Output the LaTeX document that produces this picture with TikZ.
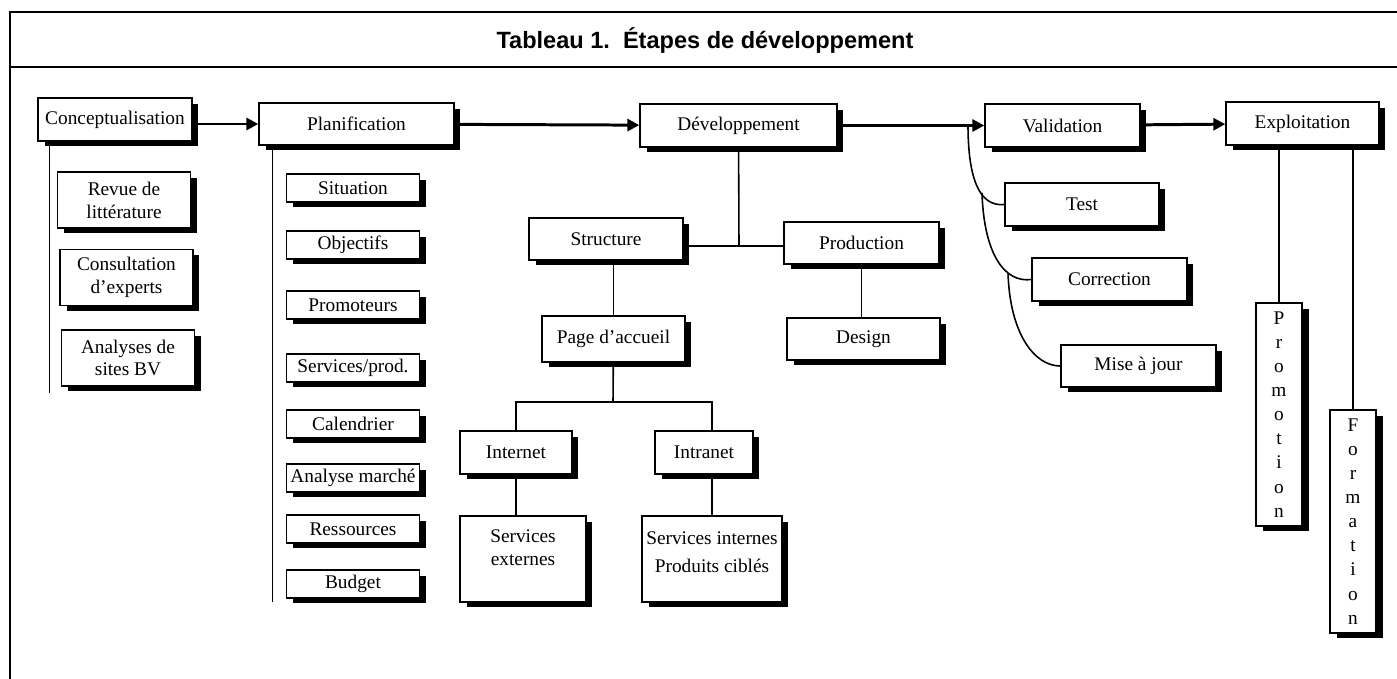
\documentclass[tikz,border=0pt]{standalone}
\usepackage{fontspec}
\setmainfont{Liberation Serif}
\setsansfont{Liberation Sans}
\usetikzlibrary{arrows.meta,shadows}

\begin{document}
\begin{tikzpicture}[x=0.02cm, y=0.02cm,
    box/.style={draw, fill=white, line width=0.8pt, inner sep=1pt, align=center,
      font=\fontsize{11}{13}\selectfont,
      drop shadow={shadow xshift=0.13cm, shadow yshift=-0.11cm, fill=black, opacity=1}},
    stagebox/.style={box, minimum width=3.08cm, minimum height=0.86cm},
    sidebox/.style={box, minimum width=2.66cm, minimum height=1.12cm},
    planbox/.style={box, minimum width=2.66cm, minimum height=0.56cm},
    webbox/.style={box, minimum height=0.86cm},
    contentbox/.style={box, minimum height=1.72cm},
    tallbox/.style={box, minimum width=0.92cm, minimum height=4.46cm,
      font=\fontsize{11}{13.7}\selectfont},
    flow/.style={line width=1.7pt, -{Triangle[length=0.24cm, width=0.24cm]}},
    tree/.style={line width=0.9pt},
    frame/.style={line width=1.5pt}]
  \useasboundingbox (0,0) rectangle (1397,-679);
  \fill[white] (0,0) rectangle (1397,-679);

  \draw[frame] (1397,-12) -- (10,-12) -- (10,-679);
  \draw[frame] (10,-67) -- (1397,-67);
  \node (title) at (705,-40.5)
    {\fontsize{13.4}{16}\sffamily\bfseries Tableau 1.\ \ Étapes de développement};

  \node[stagebox] (concept) at (115,-119.5) {Conceptualisation};
  \node[stagebox, minimum width=3.9cm, minimum height=0.84cm] (plan) at (356.5,-124) {Planification};
  \node[stagebox, minimum width=3.94cm] (dev) at (738.5,-125.5) {Développement};
  \node[stagebox, minimum width=3.1cm] (valid) at (1062.5,-125.5) {Validation};
  \node[stagebox, minimum width=3.06cm] (exploit) at (1302.5,-123.5) {Exploitation};

  \node[sidebox] (revue) at (124,-200) {Revue de\\littérature};
  \node[sidebox] (consult) at (126.5,-277.5) {Consultation\\d’experts};
  \node[sidebox] (analyses) at (128,-358) {Analyses de\\sites BV};

  \node[planbox] (situation) at (353,-188) {Situation};
  \node[planbox] (objectifs) at (353,-245) {Objectifs};
  \node[planbox] (promoteurs) at (353,-305) {Promoteurs};
  \node[planbox] (services) at (353,-368) {Services/prod.};
  \node[planbox] (calendrier) at (353,-424) {Calendrier};
  \node[planbox] (marche) at (353,-478) {Analyse marché};
  \node[planbox] (ressources) at (353,-529) {Ressources};
  \node[planbox] (budget) at (353,-584) {Budget};

  \node[stagebox, minimum height=0.84cm] (structure) at (606,-239) {Structure};
  \node[stagebox, minimum width=3.1cm, minimum height=0.84cm] (production) at (861.5,-243) {Production};
  \node[stagebox, minimum width=2.86cm, minimum height=0.92cm, line width=1.6pt] (accueil) at (613.5,-339) {Page d’accueil};
  \node[stagebox, minimum width=3.06cm, minimum height=0.84cm] (design) at (863.5,-339) {Design};

  \node[webbox, minimum width=2.24cm] (internet) at (516,-452.5) {Internet};
  \node[webbox, minimum width=1.96cm] (intranet) at (704,-452.5) {Intranet};
  \node[contentbox, minimum width=2.52cm] (externes) at (523,-559) {Services\\externes\\~};
  \node[contentbox, minimum width=2.8cm] (internes) at (712,-559) {Services internes\\[3pt]Produits ciblés\\[-5.6pt]~};

  \node[stagebox] (test) at (1082,-204.5) {Test};
  \node[stagebox, minimum width=3.1cm] (correction) at (1109.5,-279.5) {Correction};
  \node[stagebox, minimum width=3.1cm, minimum height=0.84cm] (misajour) at (1138.5,-366) {Mise à jour};

  \node[tallbox] (promotion) at (1279,-414.5) {P\\r\\o\\m\\o\\t\\i\\o\\n};
  \node[tallbox] (formation) at (1353,-521.5) {F\\o\\r\\m\\a\\t\\i\\o\\n};

  \draw[flow] (concept.east |- plan) -- (plan.west);
  \draw[flow] (plan) -- (dev);
  \draw[flow] (dev) -- (valid);
  \draw[flow] (valid) -- (exploit);

  \draw[tree] ([xshift=0.24cm]concept.south west) -- ++(0,-251);
  \draw[tree] ([xshift=0.28cm]plan.south west) -- ++(0,-456);

  \coordinate (dj) at (739,-246);
  \draw[tree] (dev) -- (dj);
  \draw[tree] (structure.east |- dj) -- (production.west |- dj);
  \draw[tree] (structure.south -| accueil) -- (accueil);
  \draw[tree] (production) -- (production |- design.north);

  \coordinate (aj) at (613,-402);
  \draw[tree] (accueil) -- (aj);
  \draw[tree] (internet.north) |- (aj) -| (intranet.north -| internes.north);
  \draw[tree] (internet) -- (internet |- externes.north);
  \draw[tree] (intranet.south -| internes.north) -- (internes.north);

  \coordinate (vb) at (968,-125);
  \coordinate (b1) at (982,-193);
  \coordinate (b2) at (1008,-273);
  \draw[tree] (vb) .. controls (968,-180) and (980,-207) .. (test.west);
  \draw[tree] (b1) .. controls (984,-255) and (1005,-283) .. (correction.west);
  \draw[tree] (b2) .. controls (1010,-335) and (1035,-366) .. (misajour.west);

  \draw[tree] (promotion.north) -- (promotion.north |- exploit.south);
  \draw[tree] (formation.north) -- (formation.north |- exploit.south);
\end{tikzpicture}
\end{document}
